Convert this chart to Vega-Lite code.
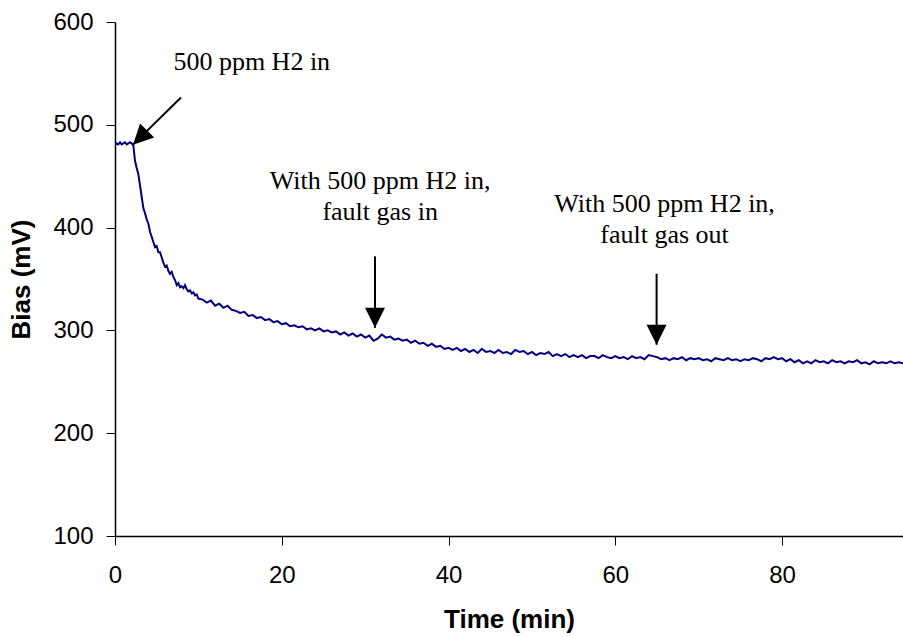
{
  "$schema": "https://vega.github.io/schema/vega-lite/v6.json",
  "width": 788,
  "height": 514,
  "autosize": {"type": "none"},
  "padding": {"left": 115, "top": 22, "right": 0, "bottom": 101},
  "background": "white",
  "config": {
    "view": {"stroke": null},
    "axis": {
      "grid": false,
      "domainColor": "black",
      "domainWidth": 1.5,
      "tickColor": "black",
      "tickWidth": 1,
      "tickSize": 9,
      "labelFlush": false,
      "labelFont": "Liberation Sans",
      "labelFontSize": 24,
      "labelColor": "black",
      "titleFont": "Liberation Sans",
      "titleFontSize": 26,
      "titleFontWeight": "bold",
      "titleColor": "black"
    }
  },
  "datasets": {
    "curve": [
      {"t":0.0,"v":481},{"t":0.2,"v":482},{"t":0.4,"v":481},{"t":0.6,"v":483},{"t":0.8,"v":481},{"t":1.0,"v":482},{"t":1.2,"v":483},{"t":1.4,"v":481},{"t":1.6,"v":482},{"t":1.8,"v":483},{"t":2.0,"v":482},{"t":2.2,"v":480},{"t":2.4,"v":465},{"t":2.6,"v":458},{"t":2.8,"v":452},{"t":3.0,"v":441},{"t":3.2,"v":430},{"t":3.4,"v":419},{"t":3.6,"v":414},{"t":3.8,"v":408},{"t":4.0,"v":404},{"t":4.2,"v":396},{"t":4.4,"v":391},{"t":4.6,"v":386},{"t":4.8,"v":381},{"t":5.0,"v":382},{"t":5.2,"v":376},{"t":5.4,"v":376},{"t":5.6,"v":371},{"t":5.8,"v":366},{"t":6.0,"v":362},{"t":6.2,"v":363},{"t":6.4,"v":358},{"t":6.6,"v":355},{"t":6.8,"v":357},{"t":7.0,"v":352},{"t":7.2,"v":349},{"t":7.4,"v":344},{"t":7.6,"v":346},{"t":7.8,"v":342},{"t":8.0,"v":343},{"t":8.2,"v":341},{"t":8.4,"v":344},{"t":8.6,"v":340},{"t":8.8,"v":338},{"t":9.0,"v":339},{"t":9.2,"v":336},{"t":9.4,"v":337},{"t":9.6,"v":334},{"t":9.8,"v":335},{"t":10.0,"v":331},
      {"t":10.5,"v":330},{"t":11.0,"v":327},{"t":11.5,"v":329},{"t":12.0,"v":324},{"t":12.5,"v":326},{"t":13.0,"v":322},{"t":13.5,"v":324},{"t":14.0,"v":320},{"t":14.5,"v":319},{"t":15.0,"v":317},{"t":15.5,"v":318},{"t":16.0,"v":314},{"t":16.5,"v":315},{"t":17.0,"v":312},{"t":17.5,"v":313},{"t":18.0,"v":310},{"t":18.5,"v":311},{"t":19.0,"v":308},{"t":19.5,"v":309},{"t":20.0,"v":306},{"t":20.5,"v":307},{"t":21.0,"v":304},{"t":21.5,"v":305},{"t":22.0,"v":303},{"t":22.5,"v":304},{"t":23.0,"v":301},{"t":23.5,"v":302},{"t":24.0,"v":300},{"t":24.5,"v":302},{"t":25.0,"v":299},{"t":25.5,"v":300},{"t":26.0,"v":298},{"t":26.5,"v":299},{"t":27.0,"v":296},{"t":27.5,"v":298},{"t":28.0,"v":295},{"t":28.5,"v":297},{"t":29.0,"v":294},{"t":29.5,"v":296},{"t":30.0,"v":293},{"t":30.5,"v":295},{"t":31.0,"v":290},{"t":31.5,"v":292},{"t":32.0,"v":296},{"t":32.5,"v":293},{"t":33.0,"v":294},{"t":33.5,"v":291},{"t":34.0,"v":292},{"t":34.5,"v":290},{"t":35.0,"v":291},{"t":35.5,"v":288},{"t":36.0,"v":290},{"t":36.5,"v":287},{"t":37.0,"v":288},{"t":37.5,"v":285},{"t":38.0,"v":287},{"t":38.5,"v":284},{"t":39.0,"v":285},{"t":39.5,"v":282},{"t":40.0,"v":283},{"t":40.5,"v":281},{"t":41.0,"v":283},{"t":41.5,"v":280},{"t":42.0,"v":282},{"t":42.5,"v":279},{"t":43.0,"v":281},{"t":43.5,"v":278},{"t":44.0,"v":282},{"t":44.5,"v":279},{"t":45.0,"v":280},{"t":45.5,"v":278},{"t":46.0,"v":281},{"t":46.5,"v":278},{"t":47.0,"v":279},{"t":47.5,"v":277},{"t":48.0,"v":281},{"t":48.5,"v":279},{"t":49.0,"v":280},{"t":49.5,"v":277},{"t":50.0,"v":279},{"t":50.5,"v":276},{"t":51.0,"v":278},{"t":51.5,"v":277},{"t":52.0,"v":279},{"t":52.5,"v":275},{"t":53.0,"v":277},{"t":53.5,"v":275},{"t":54.0,"v":277},{"t":54.5,"v":274},{"t":55.0,"v":276},{"t":55.5,"v":274},{"t":56.0,"v":276},{"t":56.5,"v":273},{"t":57.0,"v":275},{"t":57.5,"v":275},{"t":58.0,"v":273},{"t":58.5,"v":276},{"t":59.0,"v":274},{"t":59.5,"v":273},{"t":60.0,"v":275},{"t":60.5,"v":273},{"t":61.0,"v":274},{"t":61.5,"v":272},{"t":62.0,"v":275},{"t":62.5,"v":273},{"t":63.0,"v":274},{"t":63.5,"v":272},{"t":64.0,"v":276},{"t":64.5,"v":275},{"t":65.0,"v":274},{"t":65.5,"v":272},{"t":66.0,"v":273},{"t":66.5,"v":271},{"t":67.0,"v":273},{"t":67.5,"v":272},{"t":68.0,"v":274},{"t":68.5,"v":271},{"t":69.0,"v":273},{"t":69.5,"v":272},{"t":70.0,"v":273},{"t":70.5,"v":271},{"t":71.0,"v":272},{"t":71.5,"v":270},{"t":72.0,"v":273},{"t":72.5,"v":272},{"t":73.0,"v":271},{"t":73.5,"v":273},{"t":74.0,"v":271},{"t":74.5,"v":272},{"t":75.0,"v":270},{"t":75.5,"v":272},{"t":76.0,"v":271},{"t":76.5,"v":273},{"t":77.0,"v":272},{"t":77.5,"v":270},{"t":78.0,"v":273},{"t":78.5,"v":272},{"t":79.0,"v":274},{"t":79.5,"v":272},{"t":80.0,"v":273},{"t":80.5,"v":270},{"t":81.0,"v":272},{"t":81.5,"v":269},{"t":82.0,"v":271},{"t":82.5,"v":268},{"t":83.0,"v":270},{"t":83.5,"v":268},{"t":84.0,"v":271},{"t":84.5,"v":269},{"t":85.0,"v":270},{"t":85.5,"v":268},{"t":86.0,"v":271},{"t":86.5,"v":269},{"t":87.0,"v":270},{"t":87.5,"v":268},{"t":88.0,"v":270},{"t":88.5,"v":269},{"t":89.0,"v":271},{"t":89.5,"v":268},{"t":90.0,"v":269},{"t":90.5,"v":267},{"t":91.0,"v":270},{"t":91.5,"v":268},{"t":92.0,"v":269},{"t":92.5,"v":268},{"t":93.0,"v":270},{"t":93.5,"v":268},{"t":94.0,"v":269},{"t":94.5,"v":268}
    ],
    "arrows": [
      {"t1":7.91,"v1":526.5,"t2":2.16,"v2":480.7,"angle":45},
      {"t1":31.18,"v1":372.0,"t2":31.18,"v2":302.5,"angle":0},
      {"t1":64.95,"v1":355.1,"t2":64.95,"v2":286.0,"angle":0}
    ],
    "notes": [
      {"t":16.4,"v":553.1,"label":"500 ppm H2 in"},
      {"t":31.8,"v":437.9,"label":"With 500 ppm H2 in,\nfault gas in"},
      {"t":65.9,"v":414.8,"label":"With 500 ppm H2 in,\nfault gas out"}
    ]
  },
  "layer": [
    {
      "data": {"name": "curve"},
      "mark": {"type": "line", "color": "#000080", "strokeWidth": 2, "clip": true},
      "encoding": {
        "x": {"field": "t", "type": "quantitative", "scale": {"domain": [0, 94.5], "nice": false, "zero": false},
          "axis": {"values": [0, 20, 40, 60, 80], "title": "Time (min)", "labelPadding": 18, "titlePadding": 19}},
        "y": {"field": "v", "type": "quantitative", "scale": {"domain": [100, 600], "nice": false, "zero": false},
          "axis": {"values": [100, 200, 300, 400, 500, 600], "title": "Bias (mV)", "labelPadding": 13, "titlePadding": 18}}
      }
    },
    {
      "mark": {"type": "rule", "color": "#808080", "strokeWidth": 1.5},
      "encoding": {"y": {"datum": 600, "type": "quantitative"}}
    },
    {
      "data": {"name": "arrows"},
      "mark": {"type": "rule", "color": "black", "strokeWidth": 2},
      "encoding": {
        "x": {"field": "t1", "type": "quantitative"},
        "y": {"field": "v1", "type": "quantitative"},
        "x2": {"field": "t2"},
        "y2": {"field": "v2"}
      }
    },
    {
      "data": {"name": "arrows"},
      "mark": {"type": "point", "shape": "M0,0L-1,-2L1,-2Z", "filled": true, "color": "black", "opacity": 1, "size": 400, "strokeWidth": 0},
      "encoding": {
        "x": {"field": "t2", "type": "quantitative"},
        "y": {"field": "v2", "type": "quantitative"},
        "angle": {"field": "angle", "type": "quantitative", "scale": null}
      }
    },
    {
      "data": {"name": "notes"},
      "mark": {"type": "text", "font": "Liberation Serif", "fontSize": 26, "color": "black", "align": "center", "baseline": "alphabetic", "lineBreak": "\n", "lineHeight": 31},
      "encoding": {
        "x": {"field": "t", "type": "quantitative"},
        "y": {"field": "v", "type": "quantitative"},
        "text": {"field": "label", "type": "nominal"}
      }
    }
  ]
}
